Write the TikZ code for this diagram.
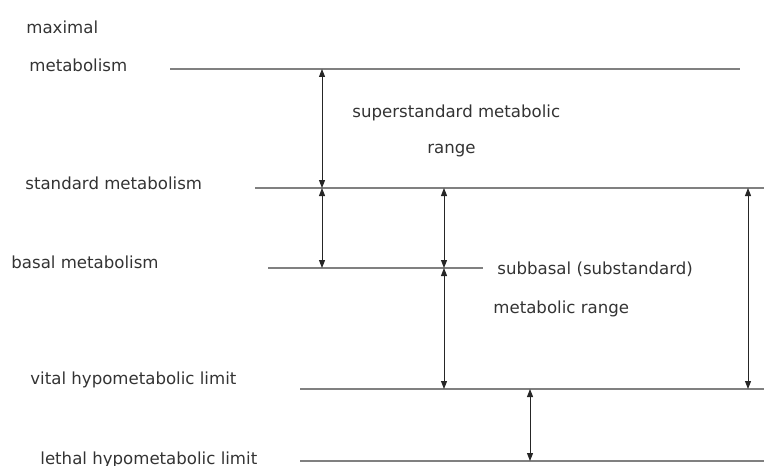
\documentclass[tikz,border=0pt]{standalone}
\usepackage{fontspec}
\setmainfont{DejaVu Sans}
\usetikzlibrary{arrows.meta,positioning}
\tikzstyle{levelline}=[draw=black!50,line width=0.8pt]
\tikzstyle{rangearrow}=[draw=black!85,line width=0.5pt,{Triangle[length=4pt,width=3pt]}-{Triangle[length=4pt,width=3pt]}]
\tikzstyle{lbl}=[anchor=base west,inner sep=0pt,font=\fontsize{8.3}{10}\selectfont,text=black!80]

\begin{document}
\begin{tikzpicture}[x=0.5pt,y=-0.5pt]
    \useasboundingbox (0,0) rectangle (764,465);

    % level lines: end points
    \foreach \name/\xa/\xb/\y in {max/170/740/69, std/255/764/188, bas/268/483/268, vit/300/764/389, let/300/764/461}
    {
        \coordinate (\name L) at (\xa,\y);
        \coordinate (\name R) at (\xb,\y);
        \path[levelline] (\name L) -- (\name R);
    }

    % arrow ends on the lines
    \foreach \name/\x/\y in {a1/322/69, a2/322/188, a3/322/268, b1/444/188, b2/444/268, b3/444/389, c1/748/188, c2/748/389, d1/530/389, d2/530/461}
        \coordinate (\name) at (\x,\y);

    % ranges
    \foreach \source/\dest in {a1/a2, a2/a3, b1/b2, b2/b3, c1/c2, d1/d2}
        \path[rangearrow] (\source) -- (\dest);

    % texts (at their base lines)
    \foreach \pos/\name/\text in {{(26,34)/tmax1/maximal}, {(29,72)/tmax2/metabolism}, {(352,118)/tsup1/superstandard metabolic}, {(427,153)/tsup2/range}, {(25,189)/tstd/standard metabolism}, {(11,268)/tbas/basal metabolism}, {(497,274)/tsub1/subbasal (substandard)}, {(493,313)/tsub2/metabolic range}, {(30,384)/tvit/vital hypometabolic limit}, {(40,464)/tlet/lethal hypometabolic limit}}
        \node[lbl] (\name) at \pos {\text};

\end{tikzpicture}
\end{document}
